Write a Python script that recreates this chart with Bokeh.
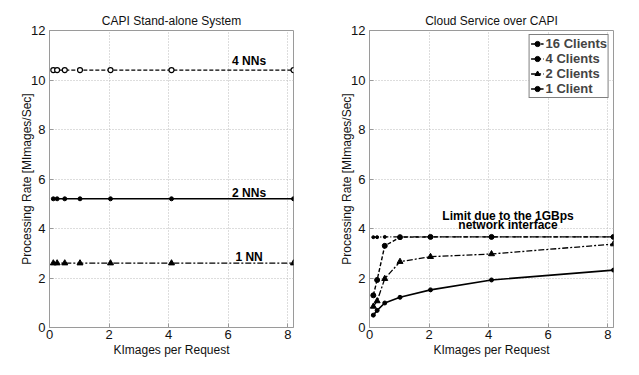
from bokeh.plotting import figure
from bokeh.layouts import row
from bokeh.models import Range1d, FixedTicker, Legend, LegendItem
from bokeh.core.properties import value
from bokeh.embed import file_html
from bokeh.resources import INLINE

# ---- data ----
kimages = [0.128, 0.256, 0.512, 1.024, 2.048, 4.096, 8.192]

nn4 = [10.4, 10.4, 10.4, 10.4, 10.4, 10.4, 10.4]
nn2 = [5.2, 5.2, 5.2, 5.2, 5.2, 5.2, 5.2]
nn1 = [2.6, 2.6, 2.6, 2.6, 2.6, 2.6, 2.6]

c16 = [3.65, 3.65, 3.66, 3.66, 3.66, 3.66, 3.66]
c4 = [1.3, 1.92, 3.3, 3.65, 3.66, 3.66, 3.66]
c2 = [0.85, 1.07, 1.97, 2.66, 2.86, 2.97, 3.37]
c1 = [0.5, 0.69, 0.99, 1.22, 1.52, 1.92, 2.32]

x_ticks = [0, 2, 4, 6, 8]
y_ticks = [0, 2, 4, 6, 8, 10, 12]

left_labels = ["4 NNs", "2 NNs", "1 NN"]
left_label_x = [6.7, 6.7, 6.7]
left_label_y = [10.75, 5.45, 2.85]

limit_text = ["Limit due to the 1GBps", "network interface"]
limit_x = [4.65, 4.65]
limit_y = [4.5, 4.13]

FONT = "Liberation Sans"
AXC = "#9a9a9a"


def make_fig(title, w, bl, br):
    p = figure(width=w, height=367, output_backend="svg", toolbar_location=None,
               x_range=Range1d(0, 8.192), y_range=Range1d(0, 12),
               min_border_left=bl, min_border_right=br,
               min_border_top=30, min_border_bottom=40, title=title)
    p.title.text_font = FONT
    p.title.text_font_size = "12px"
    p.title.text_font_style = "normal"
    p.title.align = "center"
    p.title.standoff = 6
    p.title.text_color = "#111111"
    p.outline_line_color = AXC
    p.outline_line_width = 1
    p.background_fill_color = "white"
    p.border_fill_color = "white"
    for ax in (p.xaxis, p.yaxis):
        ax.axis_line_color = AXC
        ax.major_tick_line_color = AXC
        ax.major_tick_in = 4
        ax.major_tick_out = 0
        ax.minor_tick_line_color = None
        ax.major_label_text_font = FONT
        ax.major_label_text_font_size = "13px"
        ax.major_label_text_color = "#111111"
        ax.axis_label_text_font = FONT
        ax.axis_label_text_font_size = "12px"
        ax.axis_label_text_font_style = "normal"
        ax.axis_label_text_color = "#111111"
    p.xaxis.ticker = FixedTicker(ticks=x_ticks)
    p.yaxis.ticker = FixedTicker(ticks=y_ticks)
    p.xaxis.axis_label = "KImages per Request"
    p.yaxis.axis_label = "Processing Rate [MImages/Sec]"
    p.xaxis.major_label_standoff = 2
    p.xaxis.axis_label_standoff = 1
    p.yaxis.major_label_standoff = 4
    p.yaxis.axis_label_standoff = -6
    for g in (p.xgrid, p.ygrid):
        g.grid_line_color = "#bbbbbb"
        g.grid_line_dash = "1 2"
        g.grid_line_width = 1
    return p


# ---- left panel ----
p1 = make_fig("CAPI Stand-alone System", 320, 49, 27)
p1.line(kimages, nn4, line_color="black", line_width=1.4, line_dash="4 2")
p1.scatter(kimages, nn4, marker="circle", size=5, line_color="black", fill_color="white", line_width=1.2)
p1.line(kimages, nn2, line_color="black", line_width=1.6)
p1.scatter(kimages, nn2, marker="circle", size=4, line_color="black", fill_color="black")
p1.line(kimages, nn1, line_color="black", line_width=1.3, line_dash="6 2 2 2")
p1.scatter(kimages, nn1, marker="triangle", size=6, line_color="black", fill_color="black")
p1.text(left_label_x, left_label_y, text=left_labels, text_font=value(FONT),
        text_font_size="12px", text_font_style="bold", text_align="center",
        text_baseline="middle", text_color="black")

# ---- right panel ----
p2 = make_fig("Cloud Service over CAPI", 312, 49, 19)
r16l = p2.line(kimages, c16, line_color="black", line_width=1.4, line_dash="5 2 1 2")
r16m = p2.scatter(kimages, c16, marker="circle", size=3, line_color="black", fill_color="black")
r4l = p2.line(kimages, c4, line_color="black", line_width=1.4, line_dash="4 2")
r4m = p2.scatter(kimages, c4, marker="circle", size=5, line_color="black", fill_color="black")
r2l = p2.line(kimages, c2, line_color="black", line_width=1.3, line_dash="6 2 2 2")
r2m = p2.scatter(kimages, c2, marker="triangle", size=6, line_color="black", fill_color="black")
r1l = p2.line(kimages, c1, line_color="black", line_width=1.6)
r1m = p2.scatter(kimages, c1, marker="circle", size=4, line_color="black", fill_color="black")
p2.text(limit_x, limit_y, text=limit_text, text_font=value(FONT),
        text_font_size="12px", text_font_style="bold", text_align="center",
        text_baseline="middle", text_color="black")

legend = Legend(items=[
    LegendItem(label="16 Clients", renderers=[r16l, r16m]),
    LegendItem(label="4 Clients", renderers=[r4l, r4m]),
    LegendItem(label="2 Clients", renderers=[r2l, r2m]),
    LegendItem(label="1 Client", renderers=[r1l, r1m]),
], location="top_right")
legend.label_text_font = FONT
legend.label_text_font_size = "13px"
legend.label_text_font_style = "bold"
legend.label_height = 13
legend.glyph_height = 13
legend.glyph_width = 13
legend.label_standoff = 2
legend.spacing = 0
legend.padding = 1
legend.margin = 4
legend.border_line_color = "black"
legend.border_line_width = 1
legend.background_fill_alpha = 1
p2.add_layout(legend)

layout = row(p1, p2)
open("out.html", "w").write(file_html(layout, INLINE))
